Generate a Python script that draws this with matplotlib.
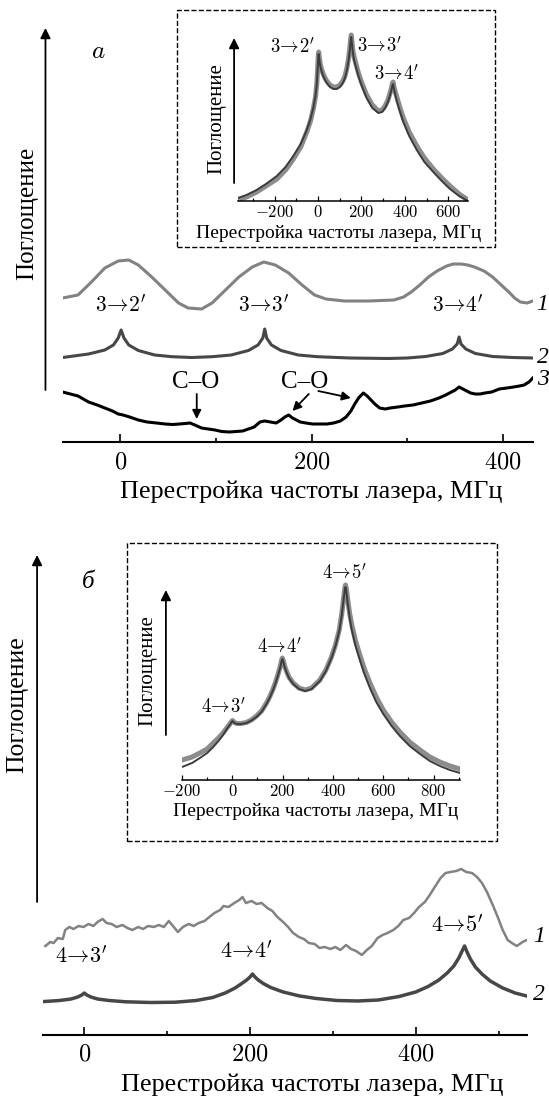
import matplotlib
matplotlib.use('Agg')
import matplotlib.pyplot as plt
from matplotlib.patches import Rectangle

plt.rcParams['font.family'] = ['Liberation Serif', 'DejaVu Serif']
plt.rcParams['mathtext.fontset'] = 'cm'

#%% data (MHz, absorption in arbitrary units)

# panel a, main
a1_f = [-60, -44, -30, -16, -2, 9, 19, 33, 47, 61, 71, 85, 96, 110, 124, 138, 150, 162, 176, 190,
        203, 215, 234, 260, 286, 296, 304, 313, 322, 331, 341, 348, 356, 363, 370, 380, 389, 398, 407, 412,
        418, 425, 431]
a1_y = [144, 147, 160, 174, 181, 182, 177, 165, 152, 139, 134, 133, 139, 152, 165, 175, 180, 177, 169, 157,
        147, 143, 141, 141, 142, 145, 150, 157, 165, 171, 176, 178, 178, 177, 175, 171, 165, 157, 149, 144,
        140, 139, 141]

a2_f = [-60, -33, -16, -7, -2, 1, 4, 9, 19, 36, 54, 75, 96, 116, 134, 144, 149, 151, 153, 158,
        168, 186, 206, 240, 280, 300, 319, 337, 347, 352, 354, 356, 361, 371, 389, 410, 431]
a2_y = [84.5, 88, 92, 97, 104, 112, 104, 97, 91.5, 87, 85.3, 84.5, 85.3, 87, 91.5, 97, 104, 113, 104, 97,
        91.5, 87, 85.3, 84, 83.5, 84, 85.5, 88.5, 93, 98, 105, 98, 93, 88.5, 85.5, 84.5, 84]

a3_f = [-60, -52, -44, -33, -24, -16, -8, -2, 3, 10, 19, 28, 38, 47, 55, 62, 68, 73, 78, 85,
        92, 99, 106, 114, 121, 128, 134, 140, 146, 151, 157, 163, 168, 172, 176, 180, 184, 188, 194, 201,
        208, 216, 223, 230, 236, 241, 245, 249, 254, 258, 262, 266, 271, 277, 282, 290, 297, 306, 315, 324,
        333, 340, 346, 350, 354, 358, 362, 366, 371, 376, 381, 388, 396, 404, 411, 417, 422, 427, 431]
a3_y = [50, 48, 46, 40, 37, 34, 31, 28, 27, 25, 22, 20, 19, 18, 17.5, 18, 18.5, 19, 17, 14,
        13, 12, 10.5, 10, 10.5, 11, 13, 15, 20, 21, 20, 19, 22, 25, 27, 24, 22, 20, 19, 18,
        18, 18, 19, 21, 25, 31, 38, 44, 49, 46, 42, 38, 34, 33, 34, 35, 36, 37, 39, 41,
        44, 47, 50, 52, 55, 53, 51, 49, 48, 48, 49, 50, 53, 54, 55, 56, 57, 60, 64]

# panel a, inset (experiment and calculation)
ia_f = [-369, -330, -283, -240, -190, -150, -114, -80, -52, -35, -22, -12, -6, -2, 1, 3, 6, 10, 16, 22,
        30, 40, 55, 71, 86, 101, 114, 124, 133, 140, 146, 150, 153, 156, 160, 166, 176, 186, 200, 224,
        250, 278, 295, 309, 322, 332, 339, 343, 346, 350, 356, 363, 375, 393, 420, 455, 490, 531, 570, 608,
        650, 691]
ia_exp = [1, 4, 9, 15, 22, 31, 42, 54, 69, 80, 92, 104, 117, 132, 146, 149, 143, 137, 132, 128,
          124, 120, 116, 114, 114, 116, 120, 125, 133, 142, 152, 162, 166, 160, 151, 144, 136, 128, 119, 106,
          96, 90, 91, 95, 101, 108, 114, 118, 119, 114, 109, 104, 95, 83, 69, 55, 43, 32, 23, 15,
          7, 1]
ia_th = [3, 6, 11, 17, 25, 34, 45, 57, 71, 82, 93, 105, 117, 131, 144, 147, 141, 135, 130, 126,
         122, 118, 114, 112, 112, 114, 118, 123, 131, 140, 150, 160, 164, 158, 149, 141, 133, 125, 116, 103,
         93, 88, 89, 93, 99, 106, 112, 116, 117, 112, 106, 100, 91, 79, 65, 51, 39, 29, 20, 12,
         5, 0]

# panel b, main
b1_f = [-47, -41, -37, -32, -26, -23, -18, -13, -7, -1, 5, 11, 16, 22, 27, 33, 39, 46, 52, 58,
        65, 71, 77, 84, 90, 96, 102, 107, 113, 119, 126, 132, 138, 145, 151, 157, 164, 168, 174, 181,
        187, 191, 195, 202, 208, 214, 221, 227, 233, 240, 246, 252, 259, 265, 271, 278, 284, 290, 297, 303,
        309, 316, 322, 328, 335, 341, 347, 354, 360, 366, 373, 379, 385, 392, 398, 404, 411, 417, 423, 430,
        436, 442, 449, 455, 461, 468, 474, 480, 486, 493, 499, 505, 511, 516, 522, 529, 534]
b1_y = [89, 93, 92, 97, 96, 105, 108, 106, 109, 108, 111, 109, 113, 116, 112, 111, 108, 110, 107, 105,
        108, 106, 109, 108, 110, 108, 114, 109, 103, 108, 111, 109, 112, 114, 118, 122, 125, 129, 128, 132,
        135, 138, 132, 134, 131, 132, 127, 124, 118, 113, 108, 102, 98, 96, 92, 91, 87, 88, 86, 88,
        85, 90, 86, 84, 80, 85, 89, 97, 100, 102, 105, 109, 115, 117, 122, 128, 133, 140, 148, 157,
        162, 163, 164, 166, 163, 162, 158, 152, 143, 130, 118, 105, 95, 92, 89, 93, 95]

b2_f = [-48, -30, -16, -8, -3, 0, 3, 8, 16, 30, 50, 80, 110, 135, 155, 170, 182, 190, 196, 200,
        203, 206, 210, 216, 225, 240, 260, 280, 305, 330, 355, 380, 400, 415, 428, 438, 446, 452, 456, 459,
        462, 466, 472, 480, 490, 505, 520, 534]
b2_y = [33.5, 34.5, 36, 38, 40, 42, 40, 38, 36, 34.5, 33.2, 32.5, 32.8, 34.5, 37.5, 42, 47, 51.5, 55, 58,
        61, 58, 55, 51.5, 47.5, 43, 39, 36.5, 34.5, 34, 35, 38.5, 43, 48.5, 55, 62, 69, 77, 84, 89,
        83, 76, 68, 61, 54, 47, 42, 39]

# panel b, inset (experiment and calculation)
ib_f = [-200, -160, -129, -100, -76, -55, -37, -22, -10, -3, 1, 6, 12, 20, 35, 56, 76, 96, 116, 136,
        150, 162, 172, 182, 190, 196, 199, 203, 208, 215, 225, 242, 265, 290, 315, 348, 372, 394, 410, 425,
        435, 442, 447, 450, 454, 459, 466, 475, 490, 507, 525, 547, 572, 600, 633, 666, 705, 746, 785, 825,
        865, 905]
ib_exp = [20, 23, 27, 31, 37, 42, 47, 52, 56, 58.5, 59.5, 58, 57, 56.5, 56.5, 57.5, 60, 64, 69, 77,
          84, 91, 98, 106, 113, 120, 122, 119, 114, 109, 103, 97, 92, 90, 92, 100, 110, 123, 135, 150,
          166, 181, 192, 195, 190, 180, 167, 155, 139, 125, 111, 97, 83, 70, 58, 48, 38, 30, 23, 18,
          14, 11]
ib_th = [13, 17, 22, 27, 33, 39, 45, 51, 55, 58, 59, 57.5, 56.5, 56, 56, 57, 59.5, 63, 68, 76,
         83, 90, 97, 105, 112, 119, 121, 118, 113, 108, 102, 96, 91, 89, 91, 99, 109, 122, 134, 149,
         165, 180, 190, 193, 187, 176, 163, 150, 134, 120, 106, 92, 78, 66, 54, 44, 34, 26, 19, 14,
         10, 7]

xlabel = 'Перестройка частоты лазера, МГц'
ylabel = 'Поглощение'

#%% figure

W, H = 549, 1101
fig = plt.figure(figsize=(W / 100, H / 100), dpi=100)


def px_axes(x0, y0, x1, y1):
    ax = fig.add_axes([x0 / W, 1 - y1 / H, (x1 - x0) / W, (y1 - y0) / H])
    ax.set_facecolor('none')
    for s in ['top', 'right', 'left']:
        ax.spines[s].set_visible(False)
    ax.set_yticks([])
    return ax


def x_ticks(ax, major, minor, size, pad, big, small, lw):
    ax.set_xticks(major, labels=['$%d$' % v if v >= 0 else r'$-%d$' % -v for v in major])
    ax.set_xticks(minor, minor=True)
    ax.spines['bottom'].set_linewidth(lw)
    ax.tick_params(axis='x', which='both', direction='in', width=lw * 0.8, labelsize=size, pad=pad)
    ax.tick_params(axis='x', which='major', length=big)
    ax.tick_params(axis='x', which='minor', length=small)


def y_arrow(ax, x, y0, y1, lw=1.3):
    ax.annotate('', xy=(x, y1), xytext=(x, y0), annotation_clip=False,
                arrowprops=dict(arrowstyle='-|>', lw=lw, color='k', mutation_scale=15,
                                shrinkA=0, shrinkB=0))


def box(x0, y0, x1, y1):
    fig.add_artist(Rectangle((x0 / W, 1 - y1 / H), (x1 - x0) / W, (y1 - y0) / H,
                             transform=fig.transFigure, fill=False, ls='--', lw=1, color='k'))


def tr(a, b):
    return r'$%d\!\rightarrow\!%d^{\prime}$' % (a, b)


# --- panel a
ax = px_axes(62.7, 20, 533.3, 442)
ax.set_xlim(-60, 431.5)
ax.set_ylim(0, 422)
ax.plot(a1_f, a1_y, color='#828282', lw=2.2)
ax.plot(a2_f, a2_y, color='#474747', lw=2.2)
ax.plot(a3_f, a3_y, color='k', lw=2.2)
x_ticks(ax, [0, 200, 400], [100, 300], 17.5, 7.5, 6, 3, 1.5)
y_arrow(ax, -78, 52, 414)
ax.text(-97, 229, ylabel, rotation=90, ha='center', va='center', fontsize=18)
ax.text(-23, 390, '$a$', ha='center', va='center', fontsize=18)
ax.text(200, -50, xlabel, ha='center', va='center', fontsize=18.8)
for f, lab in [(1, tr(3, 2)), (150, tr(3, 3)), (352, tr(3, 4))]:
    ax.text(f, 136, lab, ha='center', va='center', fontsize=15.5)
for y, lab in [(137, '1'), (84, '2'), (62, '3')]:
    ax.text(435, y, lab, ha='left', va='center', fontsize=17, style='italic', clip_on=False)
ax.text(79, 60, 'C–O', ha='center', va='center', fontsize=18)
ax.text(193, 60, 'C–O', ha='center', va='center', fontsize=18)
for (x0, y0), (x1, y1) in [((80, 48), (80, 23)), ((197, 48), (180, 31)), ((207, 51), (241, 44))]:
    ax.annotate('', xy=(x1, y1), xytext=(x0, y0),
                arrowprops=dict(arrowstyle='-|>', lw=1.3, color='k', mutation_scale=13,
                                shrinkA=0, shrinkB=0))

# inset a
box(177, 10, 495, 247)
ia = px_axes(238, 20, 468, 201)
ia.set_xlim(-369, 691)
ia.set_ylim(0, 181)
ia.plot(ia_f, ia_exp, color='#8c8c8c', lw=3.6)
ia.plot(ia_f, ia_th, color='#3c3c3c', lw=1.4)
x_ticks(ia, [-200, 0, 200, 400, 600], [-300, -100, 100, 300, 500], 12, 3, 3.6, 2.2, 1.1)
y_arrow(ia, -387, 18, 163)
ia.text(-465, 82, ylabel, rotation=90, ha='center', va='center', fontsize=15)
ia.text(97, -33, xlabel, ha='center', va='center', fontsize=14)
for f, y, lab in [(-120, 154, tr(3, 2)), (281, 155, tr(3, 3)), (360, 127, tr(3, 4))]:
    ia.text(f, y, lab, ha='center', va='center', fontsize=13.5)

# --- panel b
bx = px_axes(43.3, 540, 527.3, 1035)
bx.set_xlim(-49.5, 534.7)
bx.set_ylim(0, 495)
bx.plot(b1_f, b1_y, color='#828282', lw=1.8)
bx.plot(b2_f, b2_y, color='#474747', lw=2.5)
x_ticks(bx, [0, 200, 400], [100, 300, 500], 17.5, 6.5, 6, 3, 1.5)
y_arrow(bx, -57, 133, 480)
bx.text(-81, 330, ylabel, rotation=90, ha='center', va='center', fontsize=18.5)
bx.text(5, 453, 'б', ha='center', va='center', fontsize=18, style='italic')
bx.text(275, -50, xlabel, ha='center', va='center', fontsize=18.8)
for f, y, lab in [(-4, 78, tr(4, 3)), (196, 83, tr(4, 4)), (450, 109, tr(4, 5))]:
    bx.text(f, y, lab, ha='center', va='center', fontsize=16)
for y, lab in [(98, '1'), (40, '2')]:
    bx.text(542, y, lab, ha='left', va='center', fontsize=17, style='italic', clip_on=False)

# inset b
box(127, 543, 497, 841)
ib = px_axes(182, 560, 460, 780)
ib.set_xlim(-200, 905)
ib.set_ylim(0, 220)
ib.plot(ib_f, ib_exp, color='#8c8c8c', lw=3.6)
ib.plot(ib_f, ib_th, color='#3c3c3c', lw=1.4)
x_ticks(ib, [-200, 0, 200, 400, 600, 800], [-100, 100, 300, 500, 700, 900], 12, 3, 3.6, 2.2, 1.1)
y_arrow(ib, -264, 45, 190)
ib.text(-336, 109, ylabel, rotation=90, ha='center', va='center', fontsize=15)
ib.text(332, -31, xlabel, ha='center', va='center', fontsize=14)
for f, y, lab in [(-34, 73, tr(4, 3)), (189, 133, tr(4, 4)), (447, 207, tr(4, 5))]:
    ib.text(f, y, lab, ha='center', va='center', fontsize=13.5)

fig.savefig('out.png', dpi=100)
